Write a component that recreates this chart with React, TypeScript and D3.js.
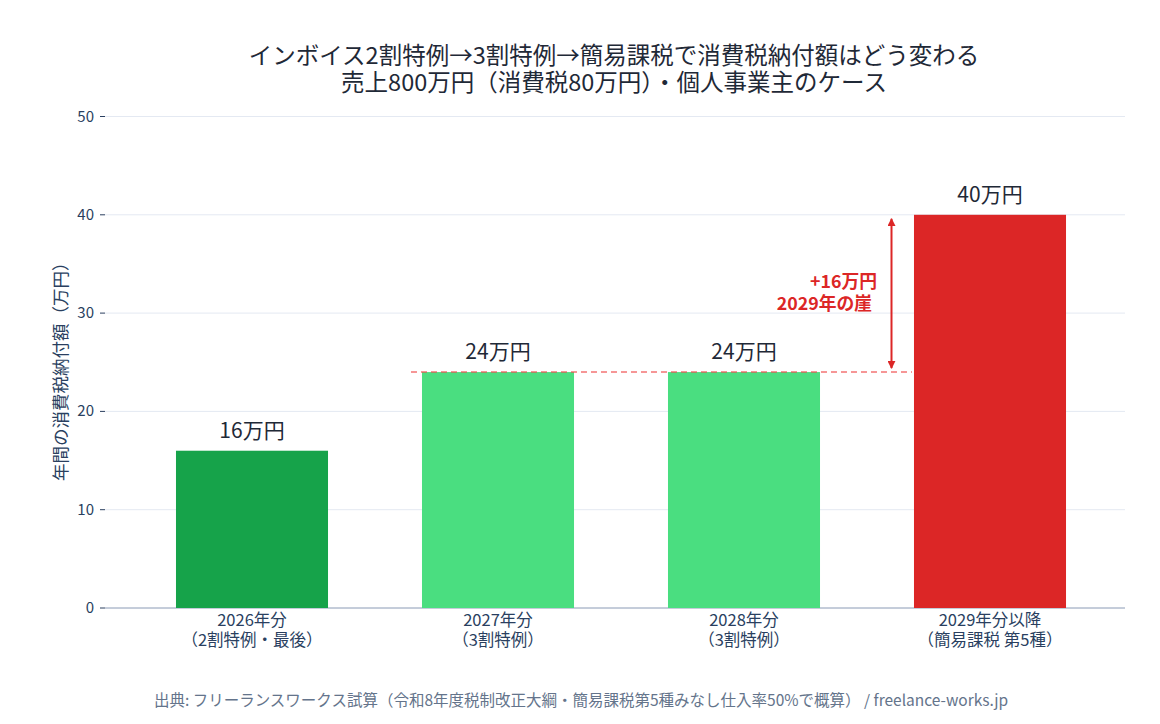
import React from "react";
import * as d3 from "d3";

const categories = ["2026年分|（2割特例・最後）", "2027年分|（3割特例）", "2028年分|（3割特例）", "2029年分以降|（簡易課税 第5種）"];
const values = [16, 24, 24, 40];
const barColors = ["#16a34a", "#4ade80", "#4ade80", "#dc2626"];
const valueLabels = ["16万円", "24万円", "24万円", "40万円"];
const yTicks = [0, 10, 20, 30, 40, 50];
const titleLines = ["インボイス2割特例→3割特例→簡易課税で消費税納付額はどう変わる", "売上800万円（消費税80万円）・個人事業主のケース"];
const yAxisTitle = "年間の消費税納付額（万円）";
const annotationLines = ["+16万円", "2029年の崖"];
const referenceLevel = 24;
const cliffTop = 40;
const footer = "出典: フリーランスワークス試算（令和8年度税制改正大綱・簡易課税第5種みなし仕入率50%で概算） / freelance-works.jp";

const FONT = "'Noto Sans CJK JP', 'Noto Sans', sans-serif";

export default function App() {
  const W = 1160, H = 724;
  const plotL = 105, plotR = 1125;
  const x = d3.scaleBand<string>().domain(categories).range([129, 1113]).paddingInner(0.382).paddingOuter(0.191);
  const y = d3.scaleLinear().domain([0, 50]).range([608, 116.5]);
  const bw = x.bandwidth();
  const arrowX = 891.5;
  const dashX1 = (x(categories[1]) as number) - 11;
  const dashX2 = 912;

  return (
    <svg width={W} height={H} style={{ position: "absolute", left: 0, top: 0, fontFamily: FONT }}>
      <defs>
        <marker id="ah" viewBox="0 0 10 10" refX="9" refY="5" markerWidth="4" markerHeight="4" orient="auto-start-reverse">
          <path d="M0,0 L10,5 L0,10 z" fill="#dc2626" />
        </marker>
      </defs>
      <rect width={W} height={H} fill="#fff" />
      {titleLines.map((t, i) => (
        <text key={i} x={614} y={64 + i * 27} textAnchor="middle" fontSize={23.5} fill="#1f2937">{t}</text>
      ))}
      {yTicks.map((t) => (
        <g key={t}>
          <line x1={plotL} x2={plotR} y1={y(t)} y2={y(t)} stroke={t === 0 ? "#8a9ab5" : "#e4e9f2"} strokeWidth={1} />
          <line x1={100} x2={105} y1={y(t)} y2={y(t)} stroke="#2a3f5f" strokeWidth={1} />
          <text x={94} y={y(t) + 5} textAnchor="end" fontSize={15} fill="#2a3f5f">{t}</text>
        </g>
      ))}
      <text transform={`translate(67,${y(24.5)}) rotate(-90)`} textAnchor="middle" fontSize={17.5} fill="#2a3f5f">{yAxisTitle}</text>
      {categories.map((c, i) => (
        <g key={c}>
          <rect x={x(c)} y={y(values[i])} width={bw} height={y(0) - y(values[i])} fill={barColors[i]} />
          <text x={(x(c) as number) + bw / 2} y={y(values[i]) - 13} textAnchor="middle" fontSize={21} fill="#1f2937">{valueLabels[i]}</text>
          {c.split("|").map((l, j) => (
            <text key={j} x={(x(c) as number) + bw / 2} y={626 + j * 19.5} textAnchor="middle" fontSize={16.5} fill="#2a3f5f">{l}</text>
          ))}
        </g>
      ))}
      <line x1={dashX1} x2={dashX2} y1={y(referenceLevel)} y2={y(referenceLevel)} stroke="#ef4444" strokeOpacity={0.75} strokeWidth={1.5} strokeDasharray="6,4" />
      <line x1={arrowX} x2={arrowX} y1={y(referenceLevel) - 4} y2={y(cliffTop) + 4} stroke="#dc2626" strokeWidth={2} markerStart="url(#ah)" markerEnd="url(#ah)" />
      <text x={877} y={288} textAnchor="end" fontSize={17.8} fontWeight="bold" fill="#dc2626">{annotationLines[0]}</text>
      <text x={872} y={310} textAnchor="end" fontSize={17.8} fontWeight="bold" fill="#dc2626">{annotationLines[1]}</text>
      <text x={581} y={706} textAnchor="middle" fontSize={15.5} fill="#64748b">{footer}</text>
    </svg>
  );
}
